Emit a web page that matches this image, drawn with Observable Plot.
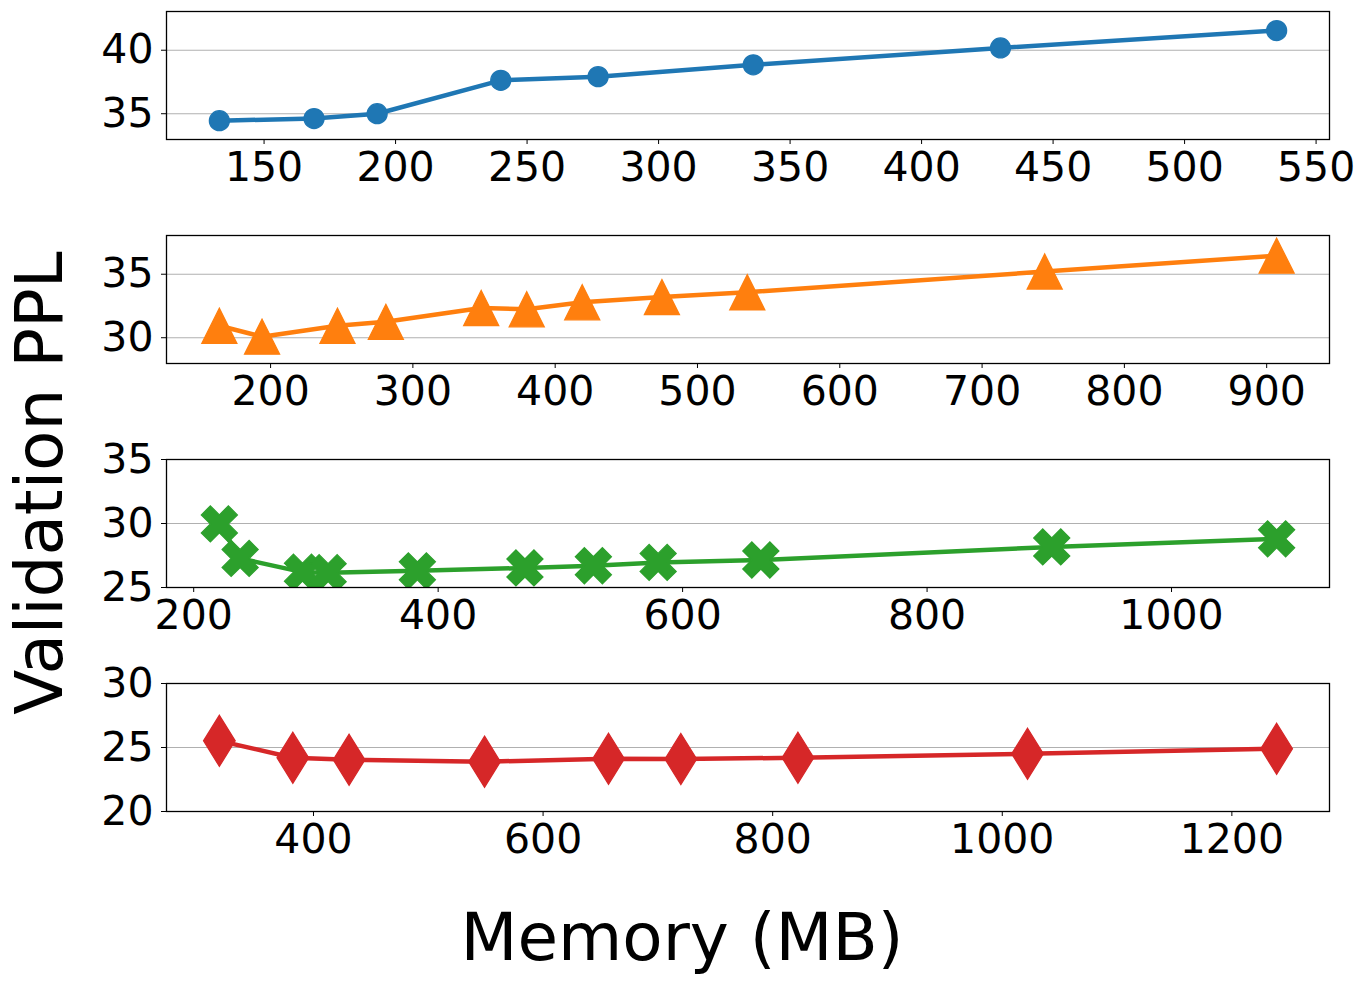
<!DOCTYPE html>
<html>
<head>
<meta charset="utf-8">
<script src="https://cdn.jsdelivr.net/npm/d3@7"></script>
<script src="https://cdn.jsdelivr.net/npm/@observablehq/plot@0.6"></script>
<style>
  html, body { margin: 0; padding: 0; background: #fff; }
  #wrap { position: relative; width: 1363px; height: 983px; font-family: "DejaVu Sans", sans-serif; overflow: hidden; }
  #wrap svg { position: absolute; left: 0; overflow: visible; }
  #ylab { position: absolute; left: 40px; top: 483px; transform: translate(-50%, -50%) rotate(-90deg); font-size: 66px; white-space: nowrap; line-height: 1; color: #000; }
  #xlab { position: absolute; left: 682px; top: 938px; transform: translate(-50%, -50%); font-size: 66px; white-space: nowrap; line-height: 1; color: #000; }
</style>
</head>
<body>
<div id="wrap">
  <div id="ylab">Validation PPL</div>
  <div id="xlab">Memory (MB)</div>
</div>
<script>
// ---- data ----
const mem1 = [133, 169, 193, 240, 277, 336, 430, 535];
const ppl1 = [34.45, 34.62, 35.0, 37.63, 37.92, 38.85, 40.18, 41.55];

const mem2 = [164, 194, 247, 281, 348, 380, 419, 475, 535, 744, 907];
const ppl2 = [30.94, 30.08, 30.94, 31.25, 32.34, 32.24, 32.79, 33.2, 33.58, 35.21, 36.46];

const mem3 = [221, 238, 289, 310, 383, 471, 527, 580, 664, 902, 1086];
const ppl3 = [29.97, 27.27, 26.2, 26.16, 26.3, 26.53, 26.7, 26.96, 27.15, 28.17, 28.8];

const mem4 = [318, 382, 431, 549, 657, 720, 822, 1022, 1239];
const ppl4 = [25.52, 24.2, 24.04, 23.89, 24.12, 24.1, 24.2, 24.51, 24.9];

const xTicks1 = [150, 200, 250, 300, 350, 400, 450, 500, 550];
const xTicks2 = [200, 300, 400, 500, 600, 700, 800, 900];
const xTicks3 = [200, 400, 600, 800, 1000];
const xTicks4 = [400, 600, 800, 1000, 1200];

const yTicks1 = [35, 40];
const yTicks2 = [30, 35];
const yTicks3 = [25, 30, 35];
const yTicks4 = [20, 25, 30];

const yDom1 = [32.97, 43.05];
const yDom2 = [27.97, 38.05];
const yDom3 = [25, 35];
const yDom4 = [20, 30];

const colors = ["#1f77b4", "#ff7f0e", "#2ca02c", "#d62728"];

// ---- marker shapes (matplotlib-like) ----
const circleSym = { draw(ctx) { ctx.moveTo(10, 0); ctx.arc(0, 0, 10, 0, 2 * Math.PI); ctx.closePath(); } };
const triSym = { draw(ctx) { ctx.moveTo(0, -17.5); ctx.lineTo(17.5, 17.5); ctx.lineTo(-17.5, 17.5); ctx.closePath(); } };
const xPts = [[-1,-2],[0,-1],[1,-2],[2,-1],[1,0],[2,1],[1,2],[0,1],[-1,2],[-2,1],[-1,0],[-2,-1]];
const xSym = { draw(ctx) { const k = 9; ctx.moveTo(xPts[0][0]*k, xPts[0][1]*k); for (let i = 1; i < xPts.length; i++) ctx.lineTo(xPts[i][0]*k, xPts[i][1]*k); ctx.closePath(); } };
const dSym = { draw(ctx) { ctx.moveTo(0, -25.5); ctx.lineTo(15.8, 0); ctx.lineTo(0, 25.5); ctx.lineTo(-15.8, 0); ctx.closePath(); } };

const panels = [
  {mem: mem1, ppl: ppl1, xt: xTicks1, yt: yTicks1, yd: yDom1, sym: circleSym},
  {mem: mem2, ppl: ppl2, xt: xTicks2, yt: yTicks2, yd: yDom2, sym: triSym},
  {mem: mem3, ppl: ppl3, xt: xTicks3, yt: yTicks3, yd: yDom3, sym: xSym},
  {mem: mem4, ppl: ppl4, xt: xTicks4, yt: yTicks4, yd: yDom4, sym: dSym}
];

const wrap = document.getElementById("wrap");
panels.forEach((p, i) => {
  const data = p.mem.map((m, j) => ({mem: m, ppl: p.ppl[j]}));
  const [lo, hi] = d3.extent(p.mem);
  const pad = (hi - lo) * 0.05;
  const color = colors[i];
  const chart = Plot.plot({
    width: 1363,
    height: 224,
    marginLeft: 166,
    marginRight: 34,
    marginTop: 11,
    marginBottom: 85,
    style: {fontFamily: "DejaVu Sans, sans-serif", fontSize: "41px", color: "#000", background: "transparent", overflow: "visible"},
    x: {domain: [lo - pad, hi + pad]},
    y: {domain: p.yd},
    marks: [
      Plot.gridY(p.yt, {stroke: "#b0b0b0", strokeOpacity: 1, strokeWidth: 1.1}),
      Plot.line(data, {x: "mem", y: "ppl", stroke: color, strokeWidth: 4.5, clip: true}),
      Plot.dot(data, {x: "mem", y: "ppl", symbol: p.sym, r: 9, fill: color, stroke: color, strokeWidth: 1.3, clip: true}),
      Plot.frame({stroke: "#000", strokeWidth: 1.3}),
      Plot.axisX({ticks: p.xt, tickSize: 5, tickPadding: 7, label: null, fontSize: 41, tickFormat: d => String(d)}),
      Plot.axisY({ticks: p.yt, tickSize: 5, tickPadding: 8, label: null, fontSize: 41, tickFormat: d => String(d)})
    ]
  });
  chart.style.top = (224 * i) + "px";
  wrap.appendChild(chart);
});
</script>
</body>
</html>
